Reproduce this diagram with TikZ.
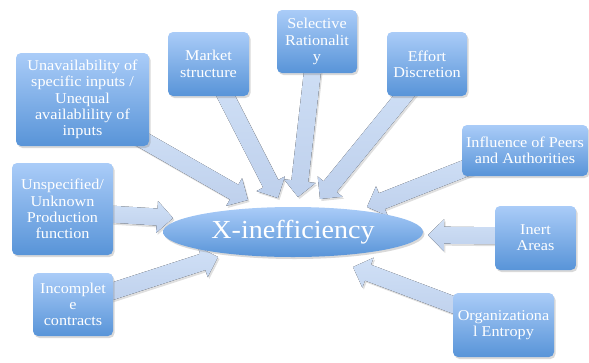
\documentclass[tikz,border=0pt]{standalone}
\usepackage{fontspec}
\setmainfont{Liberation Serif}[FakeStretch=1.08]
\usetikzlibrary{calc,shapes.geometric,shadows,backgrounds}
\definecolor{boxtop}{RGB}{170,204,248}
\definecolor{boxbot}{RGB}{88,148,216}
\definecolor{arrtop}{RGB}{208,224,246}
\definecolor{arrbot}{RGB}{190,208,236}
\tikzset{
  cause/.style={rectangle, rounded corners=5pt, top color=boxtop, bottom color=boxbot,
    text=white, align=center, font=\fontsize{15}{16.3}\selectfont, inner sep=1pt,
    drop shadow={opacity=0.3, shadow xshift=1.5pt, shadow yshift=-2pt}},
  center/.style={ellipse, top color=boxtop, bottom color=boxbot, text=white,
    font=\fontsize{26}{30}\selectfont, inner sep=0pt,
    drop shadow={opacity=0.3, shadow xshift=1.5pt, shadow yshift=-2pt}},
  blockarr/.style={top color=arrtop, bottom color=arrbot, draw=none,
    drop shadow={opacity=0.25, shadow xshift=1.5pt, shadow yshift=-2pt}}
}
% #1 start, #2 tip
\newcommand{\blockarrow}[2]{%
  \coordinate (hb) at ($(#2)!16pt!(#1)$);
  \fill[blockarr] ($(#1)!8.5pt!90:(#2)$) -- ($(hb)!8.5pt!90:(#2)$) -- ($(hb)!16pt!90:(#2)$)
    -- (#2) -- ($(hb)!16pt!-90:(#2)$) -- ($(hb)!8.5pt!-90:(#2)$) -- ($(#1)!8.5pt!-90:(#2)$) -- cycle;
}
\begin{document}
\begin{tikzpicture}[x=1pt,y=-1pt]
\useasboundingbox (0,0) rectangle (589,362);
% nodes
\node[cause, minimum width=133pt, minimum height=93pt] (unav) at (82.5,99.5)
  {Unavailability of\\specific inputs /\\Unequal\\availablility of\\inputs};
\node[cause, minimum width=81pt, minimum height=64pt] (mkt) at (208.5,64) {Market\\structure};
\node[cause, minimum width=80pt, minimum height=63pt] (sel) at (317,41.5) {Selective\\Rationalit\\y};
\node[cause, minimum width=80pt, minimum height=64pt] (eff) at (427,64) {Effort\\Discretion};
\node[cause, minimum width=126pt, minimum height=51pt] (infl) at (525,150.5) {Influence of Peers\\and Authorities};
\node[cause, minimum width=101pt, minimum height=92pt] (unsp) at (62.5,209) {Unspecified/\\Unknown\\Production\\function};
\node[cause, minimum width=80pt, minimum height=63pt] (inc) at (73,304.5) {Incomplet\\e\\contracts};
\node[cause, minimum width=81pt, minimum height=64pt] (inert) at (535.5,238) {Inert\\Areas};
\node[cause, minimum width=101pt, minimum height=64pt] (org) at (503.5,325) {Organizationa\\l Entropy};
\node[center, minimum width=260pt, minimum height=50pt] (xin) at (293,232) {X-inefficiency};
% arrow tips at the ellipse
\coordinate (t1) at (248,200);
\coordinate (t2) at (278,198);
\coordinate (t3) at (298,197);
\coordinate (t4) at (320,199);
\coordinate (t5) at (367,207);
\coordinate (t6) at (173,218);
\coordinate (t7) at (218,257);
\coordinate (t8) at (428,235);
\coordinate (t9) at (353,267);
% arrow starts inside boxes
\coordinate (s1) at ($(unav.center)+(37,27)$);
\coordinate (s2) at ($(mkt.center)+(7,12)$);
\coordinate (s3) at ($(sel.center)+(-2,8)$);
\coordinate (s4) at ($(eff.center)+(-10,16)$);
\coordinate (s5) at ($(infl.center)+(-35,8)$);
\coordinate (s6) at ($(unsp.center)+(30,4)$);
\coordinate (s7) at ($(inc.center)+(17,-6)$);
\coordinate (s8) at ($(inert.center)+(-15,-2)$);
\coordinate (s9) at ($(org.center)+(-23,-10)$);
\begin{scope}[on background layer]
\blockarrow{s1}{t1}
\blockarrow{s2}{t2}
\blockarrow{s3}{t3}
\blockarrow{s4}{t4}
\blockarrow{s5}{t5}
\blockarrow{s6}{t6}
\blockarrow{s7}{t7}
\blockarrow{s8}{t8}
\blockarrow{s9}{t9}
\end{scope}
\end{tikzpicture}
\end{document}
